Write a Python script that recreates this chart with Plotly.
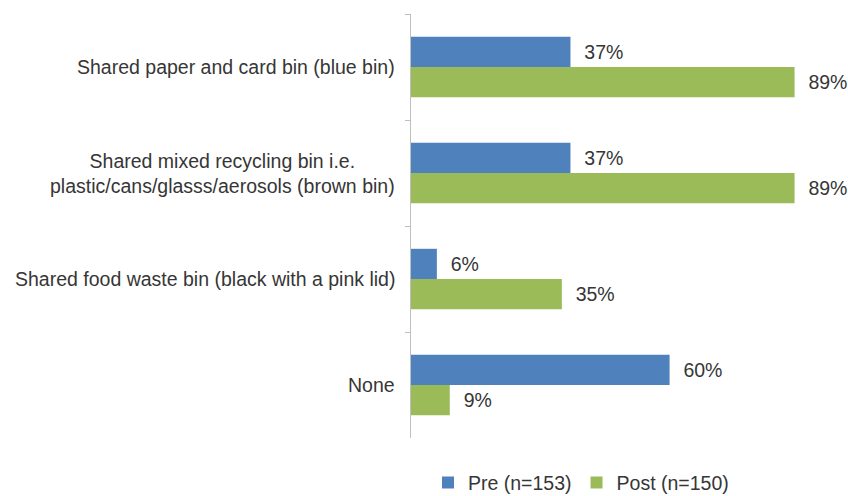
import plotly.graph_objects as go

categories = [
    "Shared paper and card bin (blue bin)",
    "Shared mixed recycling bin i.e.<br>plastic/cans/glasss/aerosols (brown bin)",
    "Shared food waste bin (black with a pink lid)",
    "None",
]
pre_values = [37, 37, 6, 60]
post_values = [89, 89, 35, 9]
series_names = ["Pre (n=153)", "Post (n=150)"]

FONT = "Liberation Sans, Arial, sans-serif"
TXT = "#363636"
FS = 19.5
NB = "\u00a0\u00a0"

fig = go.Figure()
for name, vals, col in [(series_names[0], pre_values, "#4F81BD"),
                        (series_names[1], post_values, "#9BBB59")]:
    fig.add_trace(go.Bar(
        y=categories, x=vals, orientation="h", name=name,
        marker=dict(color=col, line=dict(width=0)),
        text=[f"{NB}{v}%" for v in vals], textposition="outside",
        textfont=dict(family=FONT, size=FS, color=TXT),
        cliponaxis=False, constraintext="none",
    ))

for c in categories:
    fig.add_annotation(x=0, xref="paper", xanchor="right", xshift=-14,
                       y=c, yref="y", text=c, showarrow=False, align="center",
                       font=dict(family=FONT, size=FS, color=TXT))

fig.update_layout(
    width=848, height=496,
    margin=dict(l=411, r=0, t=14, b=58, autoexpand=False),
    paper_bgcolor="white", plot_bgcolor="white",
    barmode="group", bargap=0.43, bargroupgap=0,
    showlegend=True,
    legend=dict(orientation="h", x=0.0389, xanchor="left", y=-0.106, yanchor="middle",
                font=dict(family=FONT, size=FS, color=TXT), traceorder="normal"),
    font=dict(family=FONT, size=FS, color=TXT),
)
fig.update_xaxes(range=[0, 101.4], visible=False, showgrid=False, zeroline=False)
fig.update_yaxes(autorange="reversed", showticklabels=False, showgrid=False,
                 showline=True, linecolor="#BFBFBF", linewidth=1,
                 ticks="outside", ticklen=5, tickcolor="#BFBFBF", tickson="boundaries")

fig.write_html("out.html", config={"displayModeBar": False},
               post_script="document.body.style.margin='0';document.body.style.overflow='hidden';")
